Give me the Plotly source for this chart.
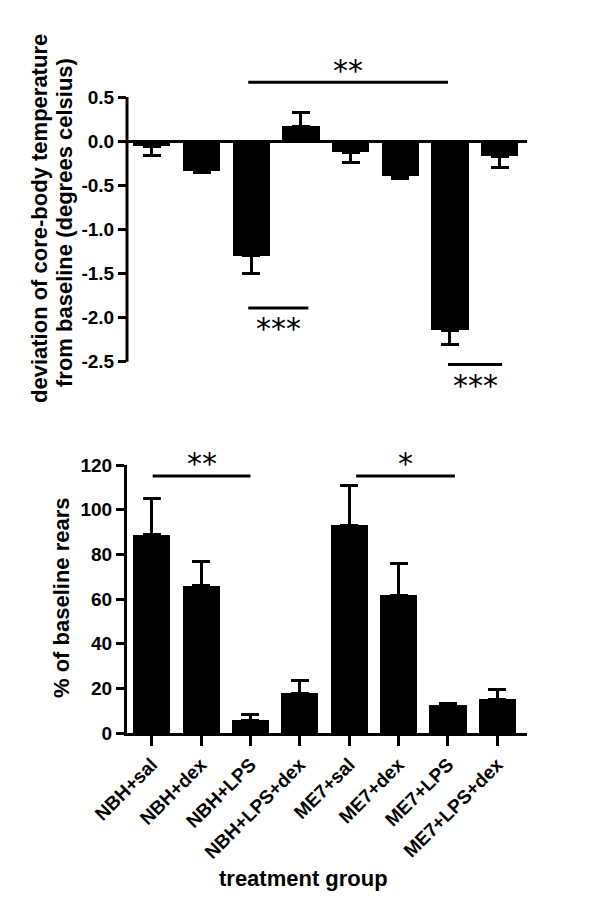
import plotly.graph_objects as go

# ---- data ----
groups = ["NBH+sal", "NBH+dex", "NBH+LPS", "NBH+LPS+dex",
          "ME7+sal", "ME7+dex", "ME7+LPS", "ME7+LPS+dex"]
temp_mean = [-0.06, -0.34, -1.30, 0.17, -0.125, -0.40, -2.14, -0.17]
temp_sem = [0.10, 0.01, 0.20, 0.16, 0.115, 0.02, 0.16, 0.13]
rears_mean = [88.8, 65.9, 5.7, 17.9, 93.1, 61.7, 12.4, 15.1]
rears_sem = [16.1, 11.0, 2.7, 5.4, 17.5, 14.2, 0.9, 4.5]
temp_ticks = [0.5, 0.0, -0.5, -1.0, -1.5, -2.0, -2.5]
rears_ticks = [0, 20, 40, 60, 80, 100, 120]

# significance brackets (category index span, y value, label, label side)
temp_sig_x0 = [1.94, 1.94, 5.96]
temp_sig_x1 = [5.96, 3.15, 7.05]
temp_sig_y = [0.668, -1.89, -2.53]
temp_sig_label = ["**", "***", "***"]
temp_sig_side = ["above", "below", "below"]
rears_sig_x0 = [0.02, 4.14]
rears_sig_x1 = [2.0, 6.14]
rears_sig_y = [115.1, 115.1]
rears_sig_label = ["**", "*"]
rears_sig_side = ["above", "above"]

W, H = 600, 916
FONT = "Liberation Sans, Arial, sans-serif"
xdom = [127 / W, 527 / W]

fig = go.Figure()

fig.add_trace(go.Bar(
    x=groups, y=temp_mean, width=0.75,
    marker=dict(color="black", line=dict(width=0)),
    error_y=dict(type="data", symmetric=False,
                 array=[s if m > 0 else 0 for m, s in zip(temp_mean, temp_sem)],
                 arrayminus=[s if m < 0 else 0 for m, s in zip(temp_mean, temp_sem)],
                 thickness=3, width=9, color="black"),
    xaxis="x", yaxis="y", showlegend=False))

fig.add_trace(go.Bar(
    x=groups, y=rears_mean, width=0.75,
    marker=dict(color="black", line=dict(width=0)),
    error_y=dict(type="data", symmetric=False, array=rears_sem,
                 arrayminus=[0] * len(rears_sem),
                 thickness=3, width=9, color="black"),
    xaxis="x2", yaxis="y2", showlegend=False))

tickfont = dict(family=FONT, size=19, color="black", weight="bold")
titlefont = dict(family=FONT, size=22, color="black", weight="bold")

fig.update_layout(
    width=W, height=H,
    margin=dict(l=0, r=0, t=0, b=0, autoexpand=False),
    paper_bgcolor="white", plot_bgcolor="white",
    bargap=0,
    xaxis=dict(domain=xdom, type="category", categoryorder="array",
               categoryarray=groups, range=[-0.5, 7.55],
               showticklabels=False, ticks="", showline=False,
               showgrid=False, zeroline=False, anchor="y", automargin=False),
    yaxis=dict(domain=[1 - 375 / H, 1 - 75 / H], range=[-2.65, 0.75],
               tickvals=temp_ticks,
               ticktext=["%.1f" % v for v in temp_ticks],
               ticks="outside", ticklen=8, tickwidth=3, tickcolor="black",
               tickfont=tickfont, showline=False, showgrid=False,
               zeroline=True, zerolinewidth=3, zerolinecolor="black",
               anchor="x", automargin=False),
    xaxis2=dict(domain=xdom, type="category", categoryorder="array",
                categoryarray=groups, range=[-0.5, 7.6],
                ticks="outside", ticklen=10, tickwidth=3, tickcolor="black",
                tickangle=-45, tickfont=tickfont,
                showline=True, linewidth=3, linecolor="black",
                showgrid=False, zeroline=False, anchor="y2", automargin=False),
    yaxis2=dict(domain=[1 - 733 / H, 1 - 465 / H], range=[0, 120],
                tickvals=rears_ticks,
                ticks="outside", ticklen=8, tickwidth=3, tickcolor="black",
                tickfont=tickfont, showline=True, linewidth=3, linecolor="black",
                showgrid=False, zeroline=False, anchor="x2", automargin=False),
)

# top y-axis line only spanning the tick range
fig.add_shape(type="line", xref="x domain", yref="y", x0=0, x1=0,
              y0=min(temp_ticks), y1=max(temp_ticks),
              line=dict(color="black", width=3))

# axis titles
fig.add_annotation(xref="paper", yref="paper", x=39 / W, y=1 - 219 / H,
                   text="deviation of core-body temperature", textangle=-90,
                   showarrow=False, font=titlefont, xanchor="center", yanchor="middle")
fig.add_annotation(xref="paper", yref="paper", x=64 / W, y=1 - 223 / H,
                   text="from baseline (degrees celsius)", textangle=-90,
                   showarrow=False, font=titlefont, xanchor="center", yanchor="middle")
fig.add_annotation(xref="paper", yref="paper", x=61 / W, y=1 - 598 / H,
                   text="% of baseline rears", textangle=-90,
                   showarrow=False, font=titlefont, xanchor="center", yanchor="middle")
fig.add_annotation(xref="paper", yref="paper", x=303 / W, y=1 - 878 / H,
                   text="treatment group",
                   showarrow=False, font=titlefont, xanchor="center", yanchor="middle")

star_font = dict(family="DejaVu Sans", size=30, color="black")


def add_sig(x0s, x1s, ys, labels, sides, xr, yr):
    for x0, x1, y, lab, side in zip(x0s, x1s, ys, labels, sides):
        fig.add_shape(type="line", xref=xr, yref=yr, x0=x0, x1=x1, y0=y, y1=y,
                      line=dict(color="black", width=3))
        fig.add_annotation(xref=xr, yref=yr, x=(x0 + x1) / 2, y=y, text=lab,
                           showarrow=False, font=star_font, yanchor="middle",
                           yshift=12 if side == "above" else -21)


add_sig(temp_sig_x0, temp_sig_x1, temp_sig_y, temp_sig_label, temp_sig_side, "x", "y")
add_sig(rears_sig_x0, rears_sig_x1, rears_sig_y, rears_sig_label, rears_sig_side, "x2", "y2")

fig.write_html("out.html", config={"displayModeBar": False},
               post_script="document.body.style.margin='0';")
